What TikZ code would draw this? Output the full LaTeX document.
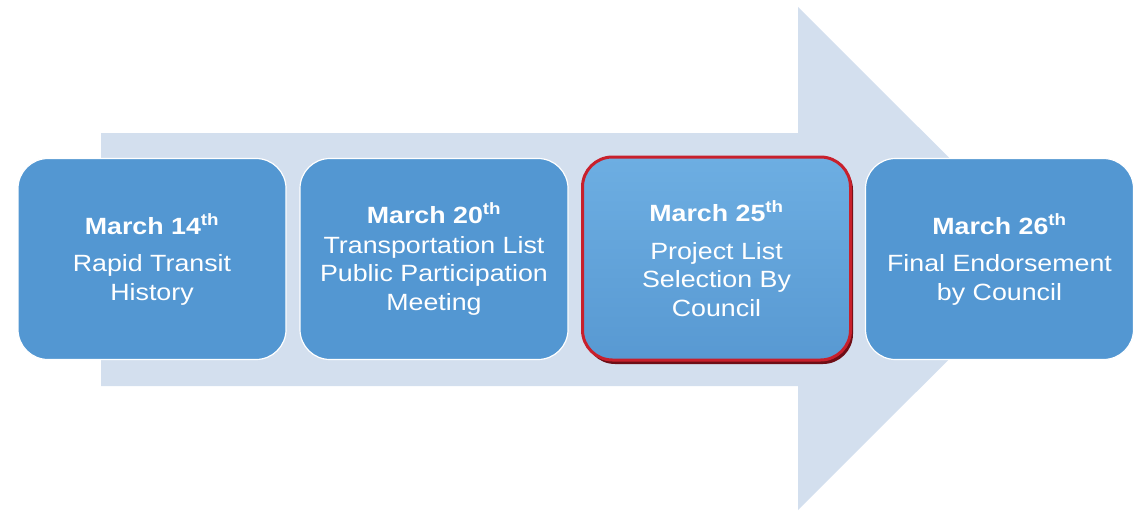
\documentclass[tikz,border=0pt]{standalone}
\usepackage{fontspec}
\setmainfont[FakeStretch=1.14]{Liberation Sans}
\definecolor{arrowc}{HTML}{D3DFEE}
\definecolor{boxc}{HTML}{5397D2}
\definecolor{hitop}{HTML}{6DAEE2}
\definecolor{hibot}{HTML}{5899D2}
\definecolor{redc}{HTML}{C8202C}
\definecolor{shadowc}{HTML}{6E0E16}
\tikzset{
  stagebox/.style={rounded corners=30pt, minimum width=268pt, minimum height=201pt,
    fill=boxc, draw=white, line width=1.2pt, text=white, align=center,
    font=\fontsize{23.5}{28.5}\selectfont, inner sep=0pt},
  hibox/.style={stagebox, draw=redc, line width=3pt, top color=hitop, bottom color=hibot,
    minimum width=268pt, minimum height=203pt}
}
\begin{document}
\begin{tikzpicture}[x=1pt,y=-1pt]
\useasboundingbox (0,0) rectangle (1143,511);
\fill[arrowc] (101,133) -- (798,133) -- (798,7) -- (1050,258.5) -- (798,510) -- (798,386) -- (101,386) -- cycle;
\node[stagebox] (b1) at (152,259) {\textbf{March 14\textsuperscript{th}}\\[9pt]Rapid Transit\\History};
\node[stagebox] (b2) at (434,259) {\textbf{March 20\textsuperscript{th}}\\[1pt]Transportation List\\Public Participation\\Meeting};
\fill[shadowc, rounded corners=30pt] (585,160) rectangle (853,364);
\node[hibox] (b3) at (716.5,258.5) {\textbf{March 25\textsuperscript{th}}\\[9pt]Project List\\Selection By\\Council};
\node[stagebox] (b4) at (999.5,259) {\textbf{March 26\textsuperscript{th}}\\[9pt]Final Endorsement\\by Council};
\end{tikzpicture}
\end{document}
